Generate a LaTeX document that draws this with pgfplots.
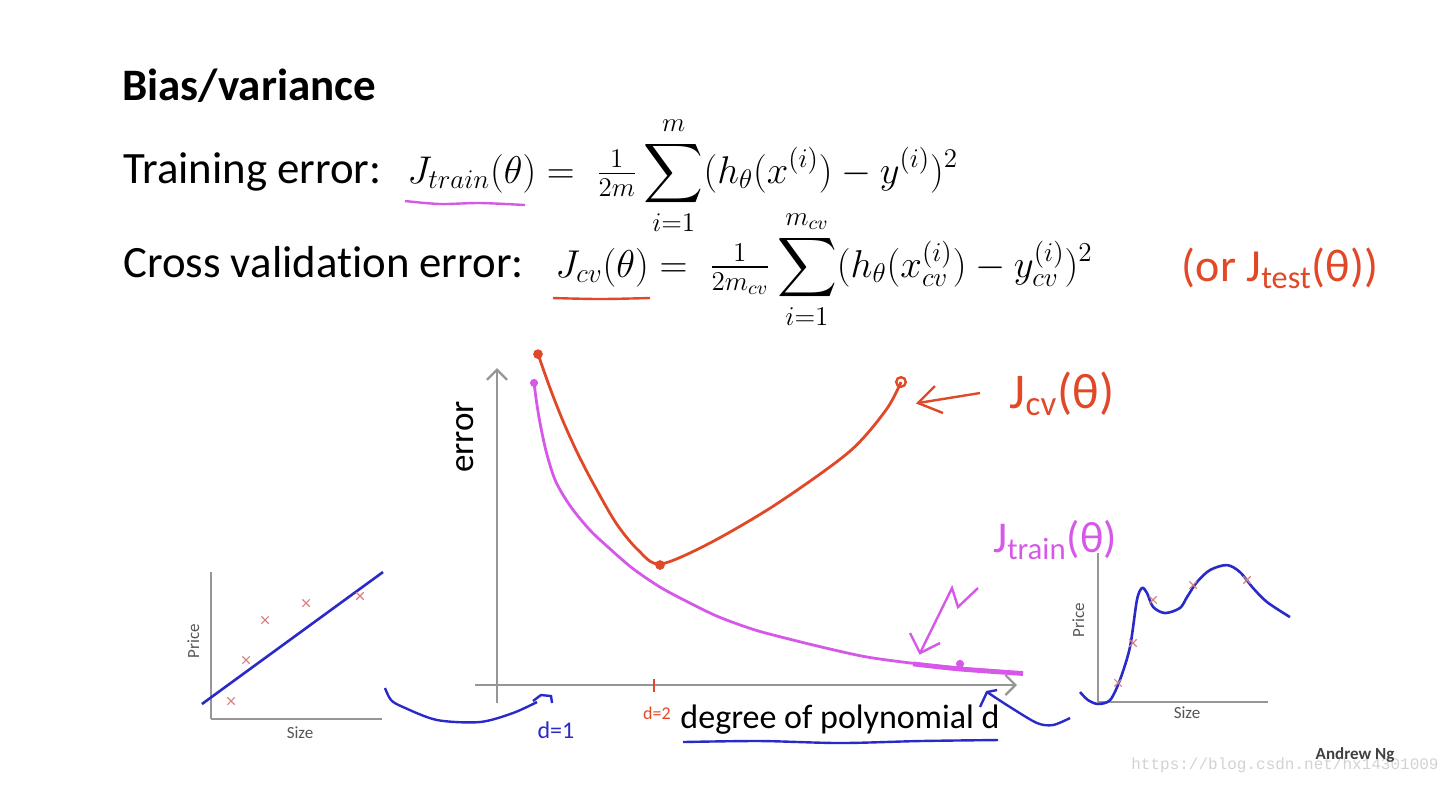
\RequirePackage{fix-cm}
\documentclass[border=0pt]{standalone}
\usepackage{amsmath}
\usepackage{fontspec}
\setmainfont{Carlito}[Ligatures={NoCommon}]
\newfontfamily\wmfont{Liberation Mono}
\usepackage{pgfplots}
\pgfplotsset{compat=1.18}
\usetikzlibrary{arrows.meta}

\definecolor{cvred}{RGB}{224,72,40}
\definecolor{trmag}{RGB}{214,88,232}
\definecolor{penblue}{RGB}{42,42,200}
\definecolor{axgray}{RGB}{150,150,150}
\definecolor{xred}{RGB}{214,128,128}
\definecolor{labgray}{RGB}{85,85,85}

\begin{document}
\begin{tikzpicture}
\path[use as bounding box] (0,0) rectangle (727pt,-392pt);

% main plot: error vs degree of polynomial
\begin{axis}[at={(248.5pt,-342.5pt)}, anchor=origin,
    x=2.6pt, y=1.6pt,
    xmin=-4.2, xmax=100, ymin=-5.6, ymax=99,
    axis lines=middle,
    axis line style={draw=axgray, line width=1.1pt, -{Straight Barb[length=5pt,width=10pt]}},
    xtick=\empty, ytick=\empty, clip=false]
% J_cv
\addplot[cvred, line width=1.4pt, smooth, tension=0.5] coordinates {
(7.88,103.44) (10.19,92.81) (12.69,82.5) (15.38,72.81) (18.46,63.13) (22.88,50.63)
(27.12,42.19) (31.35,37.81) (40.58,44.06) (53.46,56.25) (67.69,72.81) (74.81,85.94) (77.69,94.69)};
% J_train
\addplot[trmag, line width=1.4pt, smooth] coordinates {
(7.12,94.4) (7.69,87.5) (8.46,80.3) (9.62,71.9) (11.35,63.4) (14.23,55.6)
(17.88,48.4) (21.35,43.1) (25.96,36.6) (31.35,30.6) (37.12,25.6) (42.69,21.25)
(49.62,17.2) (56.92,14.06) (64.04,11.25) (71.15,8.75) (79.42,6.9) (89.04,5.3) (101.15,3.75)};
\addplot[trmag, line width=2.4pt, smooth] coordinates {(80,6.6) (89.04,5.0) (101.15,3.6)};
\addplot[only marks, mark=*, cvred, mark size=2.2pt] coordinates {(7.88,103.4) (31.35,37.5)};
\addplot[only marks, mark=o, cvred, mark size=2.4pt, line width=1.2pt] coordinates {(77.69,94.7)};
\addplot[only marks, mark=*, trmag, mark size=1.8pt] coordinates {(7.12,94.4) (89.04,6.6)};
\addplot[cvred, line width=0.9pt] coordinates {(30.2,1.8) (30.2,-2.3)};
\end{axis}

% left small plot: underfit
\begin{axis}[at={(105.5pt,-359.5pt)}, anchor=origin,
    x=8.55pt, y=7.35pt, xmin=0, xmax=10, ymin=0, ymax=10,
    axis lines*=left, axis line style={draw=axgray, line width=1pt},
    xtick=\empty, ytick=\empty, clip=false]
\addplot[penblue, line width=1.3pt] coordinates {(-0.53,1.02) (10.06,10.0)};
\addplot[only marks, mark=x, xred, mark size=2.6pt, line width=0.6pt] coordinates {
(1.17,1.22) (2.05,4.01) (3.16,6.73) (5.56,7.89) (8.71,8.37)};
\end{axis}

% right small plot: overfit
\begin{axis}[at={(549pt,-351pt)}, anchor=origin,
    x=8.5pt, y=7.45pt, xmin=0, xmax=10, ymin=0, ymax=10,
    axis lines*=left, axis line style={draw=axgray, line width=1pt},
    xtick=\empty, ytick=\empty, clip=false]
\addplot[penblue, line width=1.3pt, smooth] coordinates {
(-1.06,0.67) (-0.59,0.13) (0,-0.13) (0.71,0.13) (1.29,1.48) (1.88,3.69)
(2.29,6.85) (2.59,7.65) (2.88,7.32) (3.24,6.38) (3.94,5.97) (4.82,6.31)
(5.24,7.05) (5.82,8.05) (6.59,8.86) (7.59,9.19) (8.35,8.72) (9.12,7.65)
(9.94,6.71) (11.29,5.70)};
\addplot[only marks, mark=x, xred, mark size=2.6pt, line width=0.6pt] coordinates {
(1.18,1.28) (2.06,3.96) (3.24,6.85) (5.59,7.85) (8.76,8.19)};
\end{axis}

% overlay in pixel units: text and pen strokes
\begin{axis}[at={(0pt,0pt)}, anchor=origin,
    x=0.5pt, y=0.5pt, y dir=reverse,
    xmin=0, xmax=1454, ymin=0, ymax=784,
    hide axis, clip=false]
\node[anchor=base west, inner sep=0pt, font=\fontsize{22.5}{27}\selectfont\bfseries] at (axis cs:122,100) {Bias/variance};
\node[anchor=base west, inner sep=0pt, font=\fontsize{22.4}{26}\selectfont] at (axis cs:123,183) {Training error:};
\node[anchor=base west, inner sep=0pt, font=\fontsize{22.4}{26}\selectfont] at (axis cs:123,277) {Cross validation error:};
\node[anchor=base west, inner sep=0pt, font=\fontsize{19.3}{22}\selectfont] at (axis cs:407,183)
  {$\displaystyle J_{train}(\theta) = \;\tfrac{1}{2m}\sum_{i=1}^{m}(h_\theta(x^{(i)}) - y^{(i)})^2$};
\node[anchor=base west, inner sep=0pt, font=\fontsize{19.4}{22}\selectfont] at (axis cs:555,277)
  {$\displaystyle J_{cv}(\theta) = \;\tfrac{1}{2m_{cv}}\sum_{i=1}^{m_{cv}}(h_\theta(x^{(i)}_{cv}) - y^{(i)}_{cv})^2$};

\addplot[trmag, line width=1.2pt, smooth] coordinates {(405,201) (440,204) (480,203) (525,205)};
\addplot[cvred, line width=1.2pt, smooth] coordinates {(553,298) (600,299) (650,298)};

\node[cvred, font=\fontsize{23}{27}\selectfont] at (axis cs:1280,268) {(or J\textsubscript{test}(θ))};

\node[rotate=90, anchor=base, inner sep=0pt, font=\fontsize{17.5}{21}\selectfont] at (axis cs:473,437) {error};
\node[anchor=base, inner sep=0pt, font=\fontsize{17}{21}\selectfont] at (axis cs:840,728) {degree of polynomial d};
\addplot[penblue, line width=1.2pt, smooth] coordinates {(683,742) (760,741) (840,743) (920,741) (998,740)};

% J_cv label and arrow
\addplot[cvred, line width=1.2pt] coordinates {(980,393) (918,403)};
\addplot[cvred, line width=1.2pt] coordinates {(935,386) (918,403) (943,413)};
\node[cvred, font=\fontsize{25}{29}\selectfont] at (axis cs:1062,394) {J\textsubscript{cv}(θ)};

% J_train label and arrow
\node[trmag, font=\fontsize{22}{26}\selectfont] at (axis cs:1055,540) {J\textsubscript{train}(θ)};
\addplot[trmag, line width=1.2pt] coordinates {(978,588) (958,607) (952,588) (920,653)};
\addplot[trmag, line width=1.2pt] coordinates {(910,633) (920,653) (940,643)};

% d = 1 and d = 2
\addplot[penblue, line width=1.2pt, smooth] coordinates {(385,688) (391,700) (403,707) (437,720) (480,722) (513,713) (537,702)};
\addplot[penblue, line width=1.2pt] coordinates {(533,701) (541,695) (551,696) (552,703)};
\node[penblue, font=\fontsize{12}{14}\selectfont] at (axis cs:556,730) {d=1};
\node[cvred, font=\fontsize{9}{11}\selectfont] at (axis cs:657,713) {d=2};
\addplot[penblue, line width=1.2pt, smooth] coordinates {(1070,718) (1053,725) (1037,723) (1010,707) (987,692)};
\addplot[penblue, line width=1.2pt] coordinates {(980,707) (987,692) (997,690)};

% small plot labels
\node[rotate=90, anchor=base, inner sep=0pt, labgray, font=\fontsize{8.5}{10}\selectfont] at (axis cs:199,641) {Price};
\node[labgray, font=\fontsize{8.5}{10}\selectfont] at (axis cs:300,733) {Size};
\node[rotate=90, anchor=base, inner sep=0pt, labgray, font=\fontsize{8.5}{10}\selectfont] at (axis cs:1084,620) {Price};
\node[labgray, font=\fontsize{8.5}{10}\selectfont] at (axis cs:1187,713) {Size};

% footer
\node[gray!35, font=\wmfont\fontsize{8}{9}\selectfont] at (axis cs:1285,765) {https://blog.csdn.net/hx14301009};
\node[black!75, font=\fontsize{8.5}{10}\selectfont\bfseries] at (axis cs:1355,755) {Andrew Ng};
\end{axis}
\end{tikzpicture}
\end{document}
